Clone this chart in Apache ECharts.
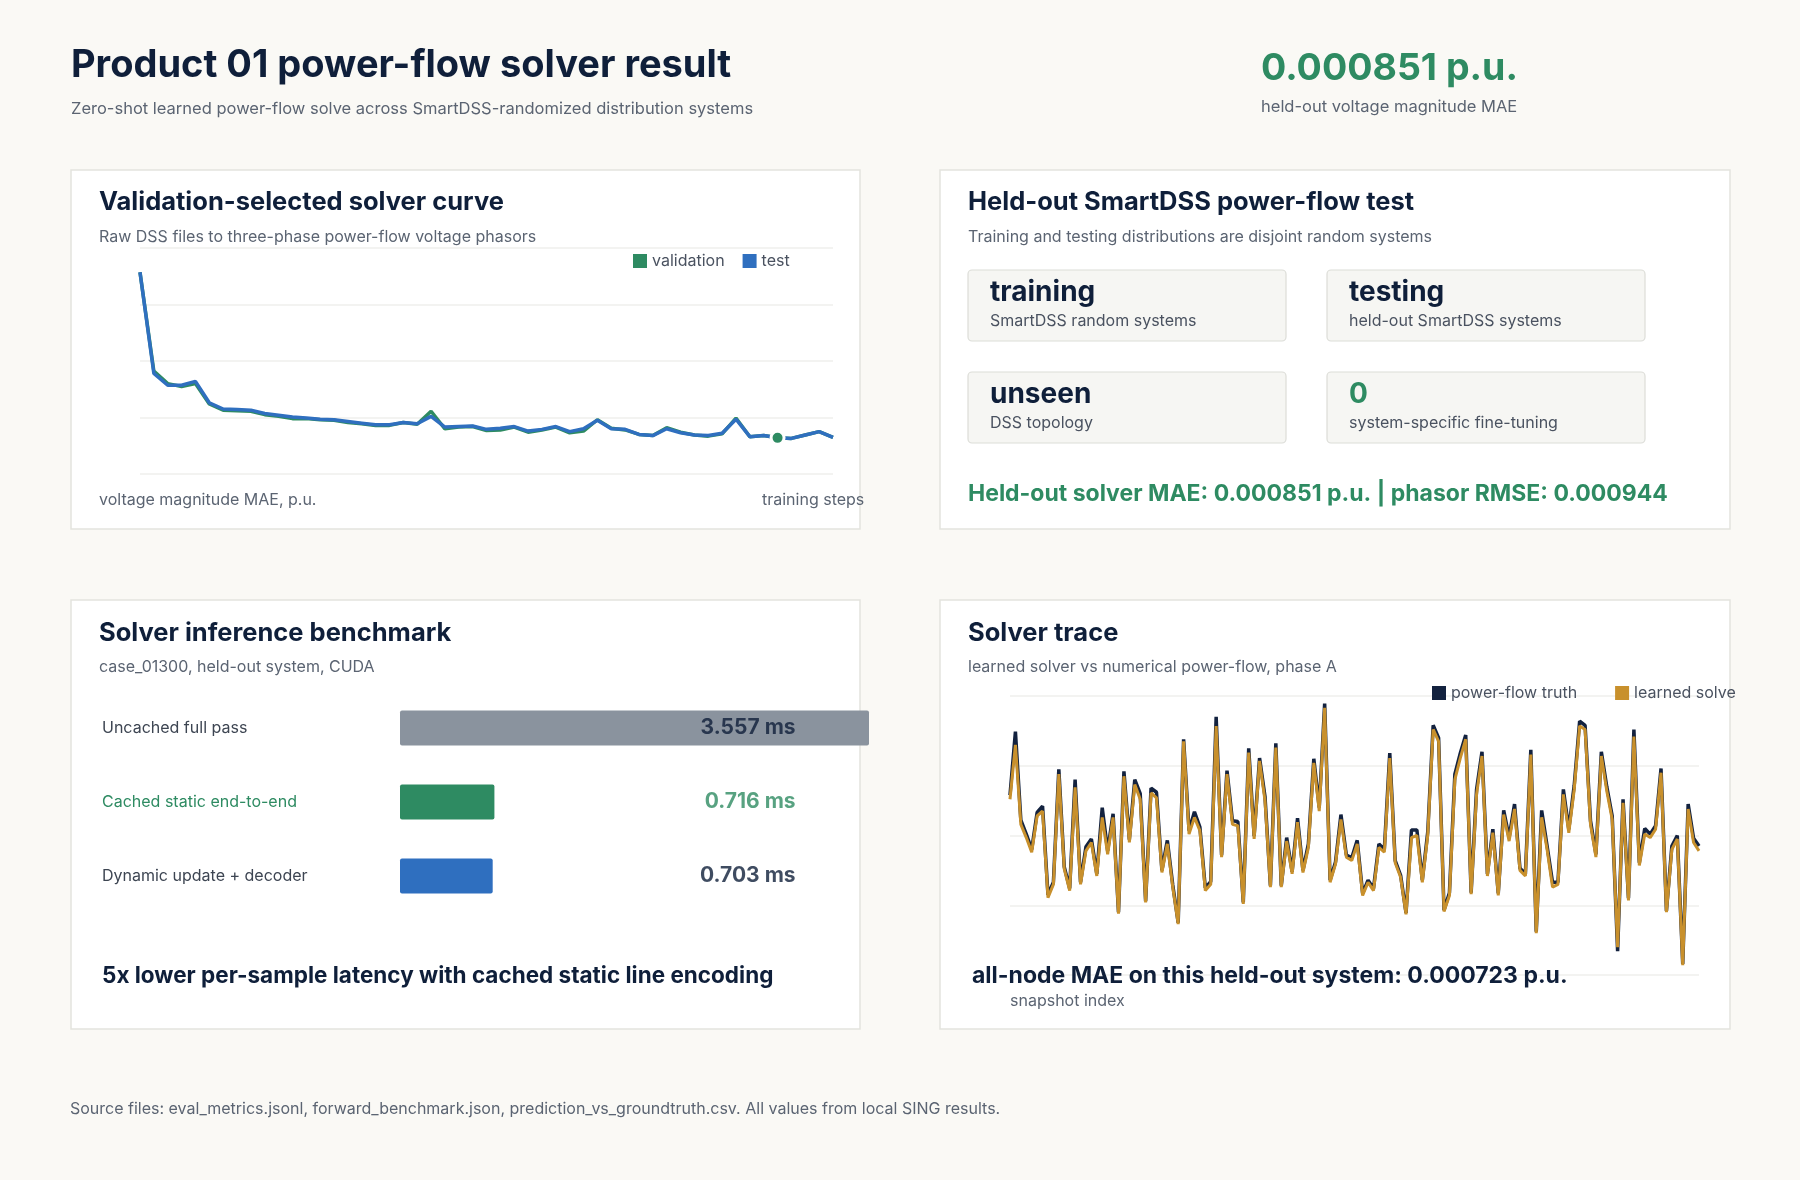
<!DOCTYPE html>
<html><head><meta charset="utf-8">
<script src="https://cdn.jsdelivr.net/npm/echarts@6/dist/echarts.min.js"></script>
<style>html,body{margin:0;padding:0;background:#faf9f5;}#c{width:1800px;height:1180px;}</style>
</head><body><div id="c"></div>
<script>
// ---- data ----
const curveTest = [3.57,1.78,1.57,1.57,1.64,1.26,1.15,1.14,1.13,1.07,1.04,1.01,0.99,0.97,0.96,0.93,0.90,0.87,0.87,0.91,0.89,1.02,0.83,0.84,0.85,0.79,0.81,0.84,0.76,0.79,0.84,0.75,0.80,0.95,0.80,0.79,0.70,0.68,0.80,0.73,0.69,0.68,0.72,0.97,0.66,0.68,0.64,0.63,0.69,0.75,0.65];
const curveVal  = [3.57,1.82,1.60,1.55,1.60,1.24,1.13,1.12,1.11,1.05,1.02,0.98,0.98,0.96,0.95,0.91,0.89,0.86,0.86,0.91,0.88,1.11,0.80,0.83,0.84,0.77,0.78,0.83,0.74,0.78,0.83,0.73,0.76,0.96,0.81,0.78,0.70,0.68,0.82,0.74,0.69,0.67,0.71,0.99,0.66,0.68,0.64,0.63,0.69,0.75,0.65];
const selectedStep = 46;
const benchLabels = ["Uncached full pass","Cached static end-to-end","Dynamic update + decoder"];
const benchMs = [3.557,0.716,0.703];
const traceLearned = [2.52,3.30,2.16,1.97,1.76,2.28,2.35,1.11,1.30,2.88,1.52,1.21,2.69,1.30,1.78,1.90,1.42,2.26,1.73,2.26,0.88,2.85,1.90,2.73,2.52,1.04,2.61,2.54,1.47,1.88,1.26,0.73,3.35,2.02,2.26,2.07,1.21,1.30,3.57,1.69,2.88,2.16,2.14,1.02,3.19,1.95,3.07,2.50,1.26,3.26,1.26,1.92,1.45,2.19,1.47,1.83,3.04,2.35,3.83,1.33,1.59,2.23,1.69,1.64,1.88,1.14,1.33,1.21,1.83,1.76,3.11,1.61,1.40,0.87,1.97,2.00,1.33,2.00,3.52,3.35,0.91,1.14,2.80,3.11,3.38,1.16,2.59,3.14,1.42,2.04,1.14,2.30,1.92,2.38,1.50,1.42,3.16,0.60,2.26,1.80,1.26,1.30,2.59,2.04,2.66,3.57,3.52,2.16,1.69,3.14,2.64,2.23,0.40,2.47,1.07,3.42,1.57,2.02,1.97,2.09,2.90,0.90,1.80,1.95,0.14,2.38,1.90,1.78];
const traceTruth   = [2.58,3.49,2.22,2.02,1.80,2.33,2.42,1.15,1.33,2.95,1.55,1.24,2.80,1.33,1.84,1.95,1.45,2.40,1.78,2.31,0.90,2.92,1.94,2.80,2.60,1.06,2.68,2.62,1.50,1.93,1.29,0.75,3.38,2.07,2.34,2.12,1.25,1.34,3.70,1.72,2.93,2.21,2.20,1.04,3.25,1.99,3.11,2.56,1.28,3.32,1.28,1.97,1.48,2.25,1.50,1.88,3.10,2.40,3.89,1.36,1.62,2.30,1.72,1.68,1.93,1.17,1.36,1.24,1.88,1.80,3.18,1.64,1.43,0.89,2.08,2.08,1.36,2.05,3.58,3.40,0.93,1.18,2.88,3.18,3.44,1.18,2.66,3.20,1.45,2.09,1.17,2.36,1.97,2.45,1.53,1.45,3.23,0.62,2.36,1.85,1.33,1.33,2.66,2.09,2.72,3.64,3.58,2.21,1.73,3.20,2.70,2.28,0.34,2.52,1.10,3.52,1.61,2.10,2.02,2.14,2.96,0.92,1.85,2.00,0.16,2.45,1.96,1.85];

const navy = "#0f1f3a", grey = "#5b6472", green = "#2e8b62", blue = "#2f6fbf", gold = "#c8902c";
const F = "Inter, 'Noto Sans', sans-serif";
const card = (x,y,w,h)=>({type:"rect",shape:{x,y,width:w,height:h},style:{fill:"#fff",stroke:"#e4e4de",lineWidth:1.5},z:-10});
const txt = (x,y,t,size,color,weight)=>({type:"text",x,y,z:100,style:{text:t,fontSize:size,fill:color,fontWeight:weight||"normal",fontFamily:F,textVerticalAlign:"middle"}});
const box = (x,y,big,small,bigColor)=>[
  {type:"rect",shape:{x,y,width:318,height:71,r:4},style:{fill:"#f6f6f3",stroke:"#dcddd8",lineWidth:1.2}},
  txt(x+22,y+23,big,28,bigColor,"bold"),
  txt(x+22,y+51,small,16,"#4a5260")
];

const chart = echarts.init(document.getElementById("c"));
chart.setOption({
  backgroundColor:"#faf9f5",
  animation:false,
  textStyle:{fontFamily:F},
  graphic:[
    card(71,170,789,359), card(940,170,790,359), card(71,600,789,429), card(940,600,790,429),
    txt(71,66,"Product 01 power-flow solver result",38,navy,"bold"),
    txt(71,109,"Zero-shot learned power-flow solve across SmartDSS-randomized distribution systems",16.5,grey),
    txt(1261,69,"0.000851 p.u.",37.5,green,"bold"),
    txt(1261,107,"held-out voltage magnitude MAE",16.5,grey),
    txt(99,202,"Validation-selected solver curve",25.5,navy,"bold"),
    txt(99,237,"Raw DSS files to three-phase power-flow voltage phasors",16,grey),
    txt(99,500,"voltage magnitude MAE, p.u.",16,grey),
    txt(762,500,"training steps",16,grey),
    txt(968,202,"Held-out SmartDSS power-flow test",25.5,navy,"bold"),
    txt(968,237,"Training and testing distributions are disjoint random systems",16,grey),
    ...box(968,270,"training","SmartDSS random systems",navy),
    ...box(1327,270,"testing","held-out SmartDSS systems",navy),
    ...box(968,372,"unseen","DSS topology",navy),
    ...box(1327,372,"0","system-specific fine-tuning",green),
    txt(968,494,"Held-out solver MAE: 0.000851 p.u. | phasor RMSE: 0.000944",23,green,"bold"),
    txt(99,633,"Solver inference benchmark",25.5,navy,"bold"),
    txt(99,667,"case_01300, held-out system, CUDA",16,grey),
    txt(102,976,"5x lower per-sample latency with cached static line encoding",22.5,navy,"bold"),
    txt(968,633,"Solver trace",25.5,navy,"bold"),
    txt(968,667,"learned solver vs numerical power-flow, phase A",16,grey),
    txt(972,976,"all-node MAE on this held-out system: 0.000723 p.u.",23,navy,"bold"),
    txt(1010,1001,"snapshot index",16,grey),
    txt(70,1109,"Source files: eval_metrics.jsonl, forward_benchmark.json, prediction_vs_groundtruth.csv. All values from local SING results.",16,grey)
  ],
  legend:[
    {data:["validation","test"],left:628,top:248,itemWidth:14,itemHeight:14,icon:"rect",itemGap:18,textStyle:{fontSize:16,color:"#4a5260"}},
    {data:["power-flow truth","learned solve"],left:1427,top:680,itemWidth:14,itemHeight:14,icon:"rect",itemGap:38,textStyle:{fontSize:16,color:"#4a5260"}}
  ],
  grid:[
    {left:140,top:248,width:693,height:226},
    {left:400,top:691,width:469,height:222},
    {left:1010,top:696,width:689,height:279}
  ],
  xAxis:[
    {gridIndex:0,type:"category",boundaryGap:false,data:curveTest.map((_,i)=>i),axisLine:{show:false},axisTick:{show:false},axisLabel:{show:false}},
    {gridIndex:1,type:"value",min:0,max:benchMs[0],show:false},
    {gridIndex:2,type:"category",boundaryGap:false,data:traceLearned.map((_,i)=>i),axisLine:{show:false},axisTick:{show:false},axisLabel:{show:false}}
  ],
  yAxis:[
    {gridIndex:0,type:"value",min:0,max:4,interval:1,axisLabel:{show:false},splitLine:{lineStyle:{color:"#efefec",width:1.5}}},
    {gridIndex:1,type:"category",inverse:true,data:benchLabels,axisLine:{show:false},axisTick:{show:false},
      axisLabel:{align:"left",margin:298,fontSize:16,color:(v,i)=>i===1?green:"#3d4552"}},
    {gridIndex:2,type:"value",min:0,max:4,interval:1,axisLabel:{show:false},splitLine:{lineStyle:{color:"#efefec",width:1.5}}}
  ],
  series:[
    {name:"validation",type:"line",xAxisIndex:0,yAxisIndex:0,data:curveVal,showSymbol:false,lineStyle:{width:3.5,color:green},itemStyle:{color:green},
      markPoint:{symbol:"circle",symbolSize:13,label:{show:false},itemStyle:{color:green,borderColor:"#fff",borderWidth:3},data:[{coord:[selectedStep,curveVal[selectedStep]]}],z:10}},
    {name:"test",type:"line",xAxisIndex:0,yAxisIndex:0,data:curveTest,showSymbol:false,lineStyle:{width:3.5,color:blue},itemStyle:{color:blue}},
    {type:"bar",xAxisIndex:1,yAxisIndex:1,barWidth:35,data:benchMs.map((v,i)=>({value:v,itemStyle:{color:["#8a939e",green,blue][i],borderRadius:2}}))},
    {type:"scatter",xAxisIndex:1,yAxisIndex:1,symbolSize:0,silent:true,z:5,
      data:benchMs.map((v,i)=>({value:[3.0,i,v],label:{color:i===1?green:navy}})),
      label:{show:true,position:"left",distance:0,fontSize:21,fontWeight:"bold",
        formatter:p=>p.value[2].toFixed(3)+" ms"},
      itemStyle:{color:"transparent"}},
    {name:"power-flow truth",type:"line",xAxisIndex:2,yAxisIndex:2,data:traceTruth,showSymbol:false,lineStyle:{width:3.5,color:"#13223f"},itemStyle:{color:"#13223f"}},
    {name:"learned solve",type:"line",xAxisIndex:2,yAxisIndex:2,data:traceLearned,showSymbol:false,lineStyle:{width:3,color:gold},itemStyle:{color:gold}}
  ]
});
</script></body></html>
